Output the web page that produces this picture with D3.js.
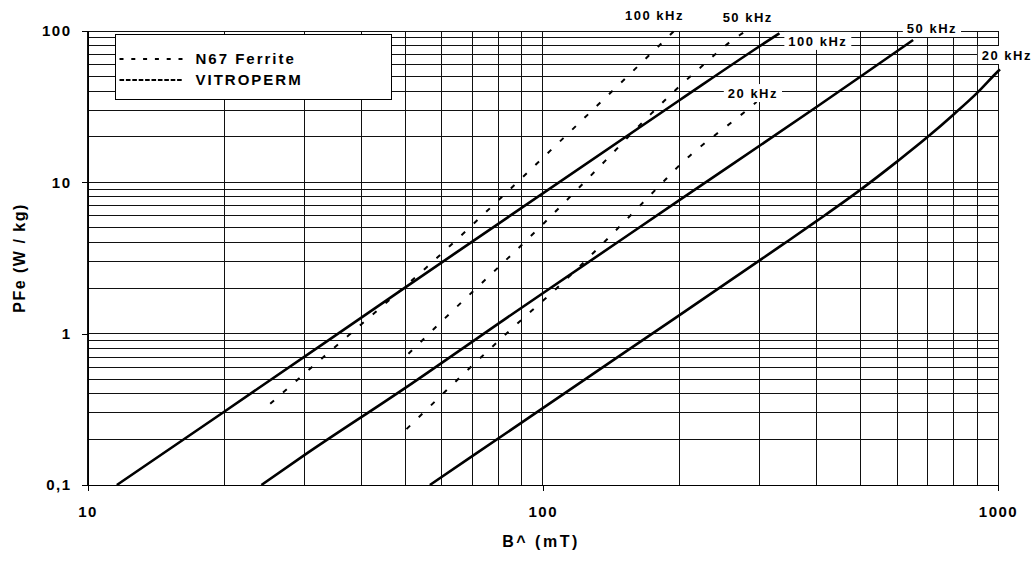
<!DOCTYPE html>
<html>
<head>
<meta charset="utf-8">
<script src="https://cdn.jsdelivr.net/npm/d3@7"></script>
<style>
body { margin: 0; background: #fff; }
text { font-family: "Liberation Sans", Arial, sans-serif; font-weight: bold; fill: #000; }
</style>
</head>
<body>
<svg></svg>
<script>
// core losses, [B^ (mT), PFe (W/kg)]
const vitro100 = [[11.6, 0.1], [20, 0.306], [50, 2.03], [200, 35], [300, 79.6], [331, 96.6]];
const vitro50 = [[24.1, 0.1], [30, 0.158], [50, 0.44], [82, 1.23], [200, 7.65], [400, 31.6], [500, 50.2], [651, 87.2]];
const vitro20 = [[56.5, 0.1], [70, 0.155], [155, 0.79], [332, 3.77], [400, 5.56], [500, 8.98], [600, 13.7],
                 [700, 19.9], [800, 28.2], [900, 39], [1000, 54.2], [1010, 55.8]];
const n67_100 = [[25.2, 0.344], [32.9, 0.696], [42.8, 1.378], [55.6, 2.75], [81.2, 7.97], [111, 19.6], [142.4, 40.3], [195, 101]];
const n67_50 = [[50.7, 0.736], [61, 1.266], [100.2, 5.31], [128, 11.2], [172, 27.9], [195, 40.3], [221, 56.7], [271, 94.1], [285, 103]];
const n67_20 = [[50.2, 0.234], [94.5, 1.415], [100.2, 1.654], [187, 10.6], [197.8, 12.6], [278, 29.3], [295, 34]];

const xTicks = [10, 100, 1000];
const yTicks = [0.1, 1, 10, 100];
const yTickLabels = ['0,1', '1', '10', '100'];

// curve labels: text and where it sits, [B, PFe]
const labelTexts = ['100 kHz', '50 kHz', '100 kHz', '50 kHz', '20 kHz', '20 kHz'];
const labelAt = [[176, 127.5], [282, 123.7], [402, 86], [716, 104.7], [1046, 69.4], [289.5, 38.9]];
const labelBoxed = [false, false, true, true, true, true];

const legendNames = ['N67 Ferrite', 'VITROPERM'];

let width = 1036;
let height = 561;
let margin = { top: 31, left: 87.5 };
let innerWidth = 910.5;
let innerHeight = 454;

let svg = d3.select('svg')
            .attr('width', width)
            .attr('height', height);

let focus = svg.append('g')
            .attr('transform', `translate(${margin.left}, ${margin.top})`);

let x = d3.scaleLog().domain([10, 1000]).range([0, innerWidth]);
let y = d3.scaleLog().domain([0.1, 100]).range([innerHeight, 0]);

// grid
const gridVals = decades => {
    let vals = [];
    decades.forEach(d => d3.range(1, 10).forEach(m => vals.push(+(d * m).toPrecision(3))));
    return vals;
}
let xGrid = gridVals([10, 100]).concat([1000]);
let yGrid = gridVals([0.1, 1, 10]).concat([100]);

let grid = focus.append('g')
            .attr('stroke', '#111')
            .attr('stroke-width', 1)
            .attr('shape-rendering', 'crispEdges');

grid.selectAll('line.v').data(xGrid).enter().append('line')
    .attr('class', 'v')
    .attr('x1', d => x(d)).attr('x2', d => x(d))
    .attr('y1', 0).attr('y2', innerHeight);

grid.selectAll('line.h').data(yGrid).enter().append('line')
    .attr('class', 'h')
    .attr('x1', 0).attr('x2', innerWidth)
    .attr('y1', d => y(d)).attr('y2', d => y(d));

// curves
const curves = [
    { values: vitro100, dashed: false },
    { values: vitro50, dashed: false },
    { values: vitro20, dashed: false },
    { values: n67_100, dashed: true },
    { values: n67_50, dashed: true },
    { values: n67_20, dashed: true }
];

let line = d3.line()
            .x(d => x(d[0]))
            .y(d => y(d[1]))
            .curve(d3.curveMonotoneX);

focus.selectAll('path.curve').data(curves).enter().append('path')
    .attr('class', 'curve')
    .attr('d', d => line(d.values))
    .attr('fill', 'none')
    .attr('stroke', '#000')
    .attr('stroke-width', d => d.dashed ? 2 : 2.6)
    .attr('stroke-dasharray', d => d.dashed ? '5,12' : null);

// curve labels with white boxes
let labels = focus.selectAll('g.lbl').data(labelTexts).enter().append('g')
                .attr('class', 'lbl')
                .attr('transform', (d, i) => `translate(${x(labelAt[i][0])}, ${y(labelAt[i][1])})`);

labels.append('text')
    .attr('text-anchor', 'middle')
    .attr('dy', '0.36em')
    .style('font-size', '13px')
    .style('letter-spacing', '1.5px')
    .text(d => d);

labels.each(function(d, i) {
    if (!labelBoxed[i]) return;
    let g = d3.select(this);
    let bb = g.select('text').node().getBBox();
    g.insert('rect', 'text')
        .attr('x', bb.x - 4)
        .attr('y', -9)
        .attr('width', bb.width + 8)
        .attr('height', 18)
        .attr('fill', '#fff');
});

// legend
let legend = svg.append('g').attr('transform', 'translate(115.5, 34)');
legend.append('rect')
    .attr('width', 276)
    .attr('height', 65)
    .attr('fill', '#fff')
    .attr('stroke', '#000')
    .attr('stroke-width', 1)
    .attr('shape-rendering', 'crispEdges');

let legendItem = legend.selectAll('g.item').data(legendNames).enter().append('g')
                    .attr('class', 'item')
                    .attr('transform', (d, i) => `translate(0, ${25 + i * 21})`);

legendItem.append('line')
    .attr('x1', 4).attr('x2', 68)
    .attr('stroke', '#000')
    .attr('stroke-width', 2)
    .attr('stroke-dasharray', (d, i) => i === 0 ? '4,7.8' : '4.6,1.8');

legendItem.append('text')
    .attr('x', 80)
    .attr('dy', '0.36em')
    .style('font-size', '15px')
    .style('letter-spacing', '2px')
    .text(d => d);

// axes
let yAxis = d3.axisLeft(y)
            .tickValues(yTicks)
            .tickFormat((d, i) => yTickLabels[i])
            .tickSize(6)
            .tickPadding(10);

let xAxis = d3.axisBottom(x)
            .tickValues(xTicks)
            .tickFormat(d3.format('d'))
            .tickSize(6)
            .tickPadding(15);

let y_axis = focus.append('g').call(yAxis);
let x_axis = focus.append('g')
            .attr('transform', 'translate(' + [0, innerHeight] + ')')
            .call(xAxis);

[y_axis, x_axis].forEach(a => {
    a.select('.domain').attr('stroke', '#000').attr('shape-rendering', 'crispEdges');
    a.selectAll('.tick line').attr('stroke', '#000').attr('shape-rendering', 'crispEdges');
    a.selectAll('.tick text')
        .attr('fill', '#000')
        .style('font-size', '15px')
        .style('letter-spacing', '1.5px')
        .style('font-family', '"Liberation Sans", Arial, sans-serif')
        .style('font-weight', 'bold');
});
y_axis.select('.domain').attr('d', `M0.5,${innerHeight}V0`);
x_axis.select('.domain').attr('d', `M0,0.5H${innerWidth}`);

// axis titles
svg.append('text')
    .attr('x', 541)
    .attr('y', 541)
    .attr('text-anchor', 'middle')
    .attr('dy', '0.36em')
    .style('font-size', '16px')
    .style('letter-spacing', '2.5px')
    .text('B^ (mT)');

svg.append('text')
    .attr('transform', 'translate(19, 258) rotate(-90)')
    .attr('text-anchor', 'middle')
    .attr('dy', '0.36em')
    .style('font-size', '16px')
    .style('letter-spacing', '1.5px')
    .text('PFe (W / kg)');
</script>
</body>
</html>
